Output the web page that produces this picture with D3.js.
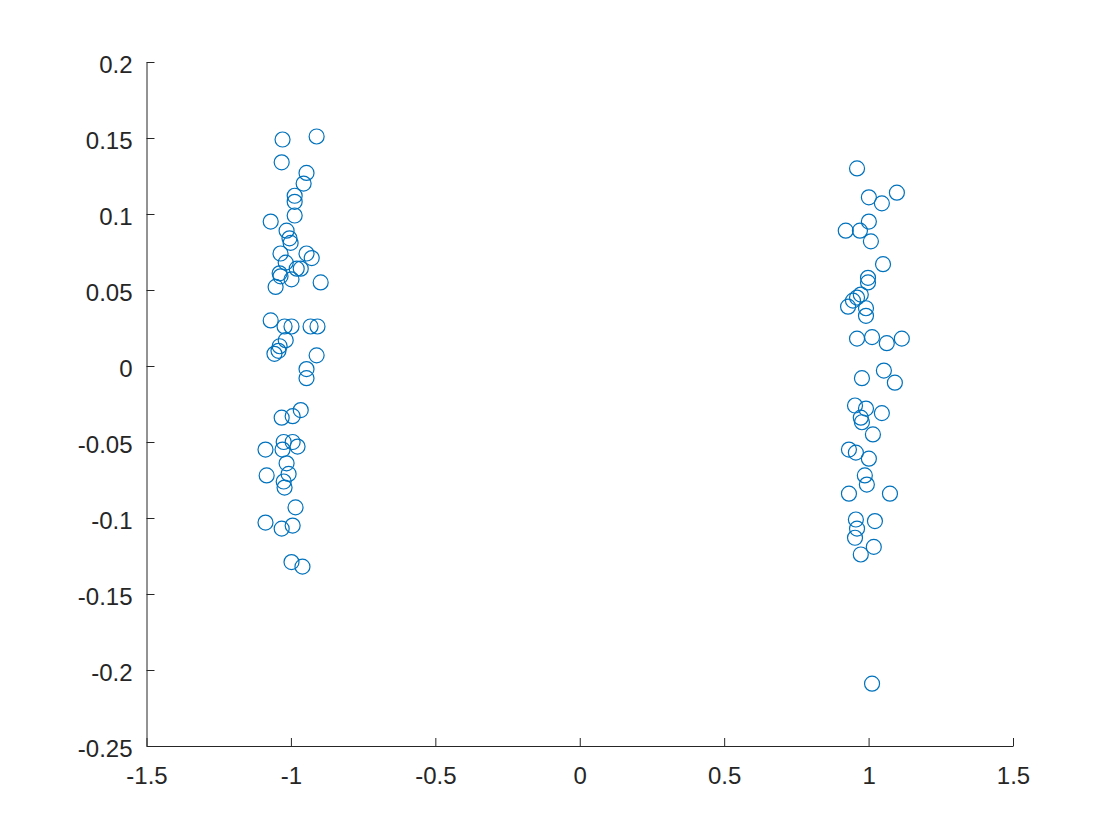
<!DOCTYPE html>
<html>
<head>
<meta charset="utf-8">
<script src="https://cdn.jsdelivr.net/npm/d3@7"></script>
<style>
  html, body { margin: 0; padding: 0; background: #ffffff; }
  svg { display: block; }
  .tick text { font-family: "Liberation Sans", Arial, Helvetica, sans-serif; font-size: 24px; fill: #262626; }
</style>
</head>
<body>
<svg id="chart" width="1120" height="840"></svg>
<script>
// Series: two clusters of scattered points
const xValues = [
  -1.029, -0.911, -1.032, -0.946, -0.956, -0.987, -0.987, -0.987, -1.070, -1.015,
  -1.005, -1.001, -1.036, -0.946, -0.928, -1.018, -0.980, -0.966, -1.039, -1.036,
  -0.998, -0.897, -1.053, -1.070, -1.022, -0.998, -0.932, -0.908, -1.018, -1.039,
  -1.043, -1.057, -0.911, -0.946, -0.946, -0.966, -0.994, -1.032, -0.994, -1.025,
  -0.977, -1.088, -1.029, -1.015, -1.008, -1.084, -1.025, -1.022, -0.984, -1.088,
  -0.994, -1.032, -0.998, -0.960,
  0.960, 1.098, 1.001, 1.046, 1.001, 0.921, 0.970, 1.008, 1.050, 0.998,
  0.998, 0.973, 0.960, 0.946, 0.929, 0.991, 0.991, 0.960, 1.012, 1.063,
  1.115, 0.977, 1.053, 1.091, 0.953, 0.991, 1.046, 0.973, 0.977, 1.015,
  0.932, 0.956, 1.001, 0.987, 0.994, 0.932, 1.074, 0.956, 1.022, 0.960,
  0.953, 1.018, 0.973, 1.012
];
const yValues = [
  0.149, 0.151, 0.134, 0.127, 0.120, 0.112, 0.108, 0.099, 0.095, 0.089,
  0.084, 0.081, 0.074, 0.074, 0.071, 0.068, 0.064, 0.064, 0.061, 0.059,
  0.057, 0.055, 0.052, 0.030, 0.026, 0.026, 0.026, 0.026, 0.017, 0.013,
  0.010, 0.008, 0.007, -0.002, -0.008, -0.029, -0.033, -0.034, -0.050, -0.050,
  -0.053, -0.055, -0.055, -0.064, -0.071, -0.072, -0.076, -0.080, -0.093, -0.103,
  -0.105, -0.107, -0.129, -0.132,
  0.130, 0.114, 0.111, 0.107, 0.095, 0.089, 0.089, 0.082, 0.067, 0.058,
  0.055, 0.047, 0.045, 0.043, 0.039, 0.038, 0.033, 0.018, 0.019, 0.015,
  0.018, -0.008, -0.003, -0.011, -0.026, -0.028, -0.031, -0.034, -0.037, -0.045,
  -0.055, -0.057, -0.061, -0.072, -0.078, -0.084, -0.084, -0.101, -0.102, -0.107,
  -0.113, -0.119, -0.124, -0.209
];
// Tick labels
const xTicks = [-1.5, -1, -0.5, 0, 0.5, 1, 1.5];
const xTickLabels = ["-1.5", "-1", "-0.5", "0", "0.5", "1", "1.5"];
const yTicks = [-0.25, -0.2, -0.15, -0.1, -0.05, 0, 0.05, 0.1, 0.15, 0.2];
const yTickLabels = ["-0.25", "-0.2", "-0.15", "-0.1", "-0.05", "0", "0.05", "0.1", "0.15", "0.2"];

const margin = { left: 146.5, right: 1120 - 1013, top: 62, bottom: 840 - 746 };
const W = 1120, H = 840;
const svg = d3.select("#chart");

const x = d3.scaleLinear().domain([-1.5, 1.5]).range([margin.left, W - margin.right]);
const y = d3.scaleLinear().domain([-0.25, 0.2]).range([H - margin.bottom, margin.top]);

const axisColor = "#262626";

const xAxis = d3.axisBottom(x)
  .tickValues(xTicks)
  .tickFormat((d, i) => xTickLabels[i])
  .tickSizeInner(-8).tickSizeOuter(0).tickPadding(21);
const yAxis = d3.axisLeft(y)
  .tickValues(yTicks)
  .tickFormat((d, i) => yTickLabels[i])
  .tickSizeInner(-8).tickSizeOuter(0).tickPadding(14);

const gx = svg.append("g").attr("transform", `translate(0,${H - margin.bottom})`).call(xAxis);
const gy = svg.append("g").attr("transform", `translate(${margin.left},0)`).call(yAxis);

[gx, gy].forEach(g => {
  g.select(".domain").attr("stroke", axisColor).attr("stroke-width", 1);
  g.selectAll(".tick line").attr("stroke", axisColor).attr("stroke-width", 1);
  g.selectAll(".tick text").attr("fill", axisColor);
});
gy.selectAll(".tick text").attr("dy", "0.45em");

const points = xValues.map((v, i) => ({ x: v, y: yValues[i] }));
svg.append("g")
  .selectAll("circle")
  .data(points)
  .join("circle")
  .attr("cx", d => x(d.x))
  .attr("cy", d => y(d.y))
  .attr("r", 7.5)
  .attr("fill", "none")
  .attr("stroke", "#0072BD")
  .attr("stroke-width", 1.2);
</script>
</body>
</html>
